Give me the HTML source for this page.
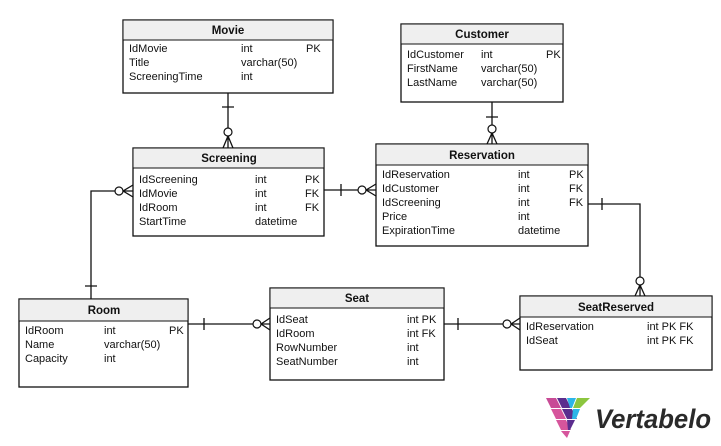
<!DOCTYPE html>
<html><head><meta charset="utf-8"><style>
html,body{margin:0;padding:0;background:#fff;width:721px;height:446px;overflow:hidden}
svg{display:block}
text{font-family:"Liberation Sans",Arial,sans-serif;font-size:11px;fill:#111}
.h{font-weight:bold;font-size:11.5px}
.box{fill:#fff;stroke:#111;stroke-width:1.3}
.hd{fill:#efefef;stroke:#111;stroke-width:1}
.l{stroke:#111;stroke-width:1.3;fill:none}
.c{stroke:#111;stroke-width:1.2;fill:#fff}
</style></head><body>
<svg width="721" height="446" viewBox="0 0 721 446">
<g class="l">
<path d="M228 93V148M222 107H234M228 136L223 148M228 136L233 148"/>
<path d="M492 102V144M486 117H498M492 133L487 144M492 133L497 144"/>
<path d="M324 190H376M341 184V196M366 190L376 184M366 190L376 196"/>
<path d="M133 191H91V299M85 286H97M123 191L133 185M123 191L133 197"/>
<path d="M588 204H640V296M602 198V210M640 285L635 296M640 285L645 296"/>
<path d="M188 324H270M204 318V330M261 324L270 318M261 324L270 330"/>
<path d="M444 324H520M458 318V330M511 324L520 318M511 324L520 330"/>
</g>
<circle class="c" cx="228" cy="132" r="4"/>
<circle class="c" cx="492" cy="129" r="4"/>
<circle class="c" cx="362" cy="190" r="4"/>
<circle class="c" cx="119" cy="191" r="4"/>
<circle class="c" cx="640" cy="281" r="4"/>
<circle class="c" cx="257" cy="324" r="4"/>
<circle class="c" cx="507" cy="324" r="4"/>

<rect class="box" x="123" y="20" width="210" height="73"/>
<rect class="hd" x="123" y="20" width="210" height="20"/>
<text class="h" x="228" y="34" text-anchor="middle">Movie</text>
<text x="129" y="52">IdMovie</text><text x="241" y="52">int</text><text x="306" y="52">PK</text>
<text x="129" y="66">Title</text><text x="241" y="66">varchar(50)</text>
<text x="129" y="80">ScreeningTime</text><text x="241" y="80">int</text>

<rect class="box" x="401" y="24" width="162" height="78"/>
<rect class="hd" x="401" y="24" width="162" height="20"/>
<text class="h" x="482" y="38" text-anchor="middle">Customer</text>
<text x="407" y="58">IdCustomer</text><text x="481" y="58">int</text><text x="546" y="58">PK</text>
<text x="407" y="72">FirstName</text><text x="481" y="72">varchar(50)</text>
<text x="407" y="86">LastName</text><text x="481" y="86">varchar(50)</text>

<rect class="box" x="133" y="148" width="191" height="88"/>
<rect class="hd" x="133" y="148" width="191" height="20"/>
<text class="h" x="229" y="162" text-anchor="middle">Screening</text>
<text x="139" y="183">IdScreening</text><text x="255" y="183">int</text><text x="305" y="183">PK</text>
<text x="139" y="197">IdMovie</text><text x="255" y="197">int</text><text x="305" y="197">FK</text>
<text x="139" y="211">IdRoom</text><text x="255" y="211">int</text><text x="305" y="211">FK</text>
<text x="139" y="225">StartTime</text><text x="255" y="225">datetime</text>

<rect class="box" x="376" y="144" width="212" height="102"/>
<rect class="hd" x="376" y="144" width="212" height="21"/>
<text class="h" x="482" y="159" text-anchor="middle">Reservation</text>
<text x="382" y="178">IdReservation</text><text x="518" y="178">int</text><text x="569" y="178">PK</text>
<text x="382" y="192">IdCustomer</text><text x="518" y="192">int</text><text x="569" y="192">FK</text>
<text x="382" y="206">IdScreening</text><text x="518" y="206">int</text><text x="569" y="206">FK</text>
<text x="382" y="220">Price</text><text x="518" y="220">int</text>
<text x="382" y="234">ExpirationTime</text><text x="518" y="234">datetime</text>

<rect class="box" x="19" y="299" width="169" height="88"/>
<rect class="hd" x="19" y="299" width="169" height="22"/>
<text class="h" x="104" y="314" text-anchor="middle">Room</text>
<text x="25" y="334">IdRoom</text><text x="104" y="334">int</text><text x="169" y="334">PK</text>
<text x="25" y="348">Name</text><text x="104" y="348">varchar(50)</text>
<text x="25" y="362">Capacity</text><text x="104" y="362">int</text>

<rect class="box" x="270" y="288" width="174" height="92"/>
<rect class="hd" x="270" y="288" width="174" height="20"/>
<text class="h" x="357" y="302" text-anchor="middle">Seat</text>
<text x="276" y="323">IdSeat</text><text x="407" y="323">int PK</text>
<text x="276" y="337">IdRoom</text><text x="407" y="337">int FK</text>
<text x="276" y="351">RowNumber</text><text x="407" y="351">int</text>
<text x="276" y="365">SeatNumber</text><text x="407" y="365">int</text>

<rect class="box" x="520" y="296" width="192" height="74"/>
<rect class="hd" x="520" y="296" width="192" height="21"/>
<text class="h" x="616" y="311" text-anchor="middle">SeatReserved</text>
<text x="526" y="330">IdReservation</text><text x="647" y="330">int PK FK</text>
<text x="526" y="344">IdSeat</text><text x="647" y="344">int PK FK</text>

<g>
<polygon points="546,398 556,398 561,408 551,408" fill="#c84b96"/>
<polygon points="557,398 566,398 571,408 562,408" fill="#5b2d8e"/>
<polygon points="567,398 576,398 572,408 570,408" fill="#2bb5e8"/>
<polygon points="577,398 590,398 580,408 573,408" fill="#8cc63f"/>
<polygon points="551,409 561,409 566,419 556,419" fill="#d6559c"/>
<polygon points="562,409 572,409 577,419 567,419" fill="#5b2d8e"/>
<polygon points="573,409 580,409 576,419 572,419" fill="#2bb5e8"/>
<polygon points="556,420 566,420 571,430 561,430" fill="#d6559c"/>
<polygon points="567,420 575,420 570,430 568,430" fill="#5b2d8e"/>
<polygon points="561,431 570,431 567,438" fill="#d6559c"/>
<text x="595" y="428" textLength="116" lengthAdjust="spacingAndGlyphs" style="font-size:27px;font-weight:bold;font-style:italic;fill:#2a2a2a">Vertabelo</text>
</g>
</svg>
</body></html>
